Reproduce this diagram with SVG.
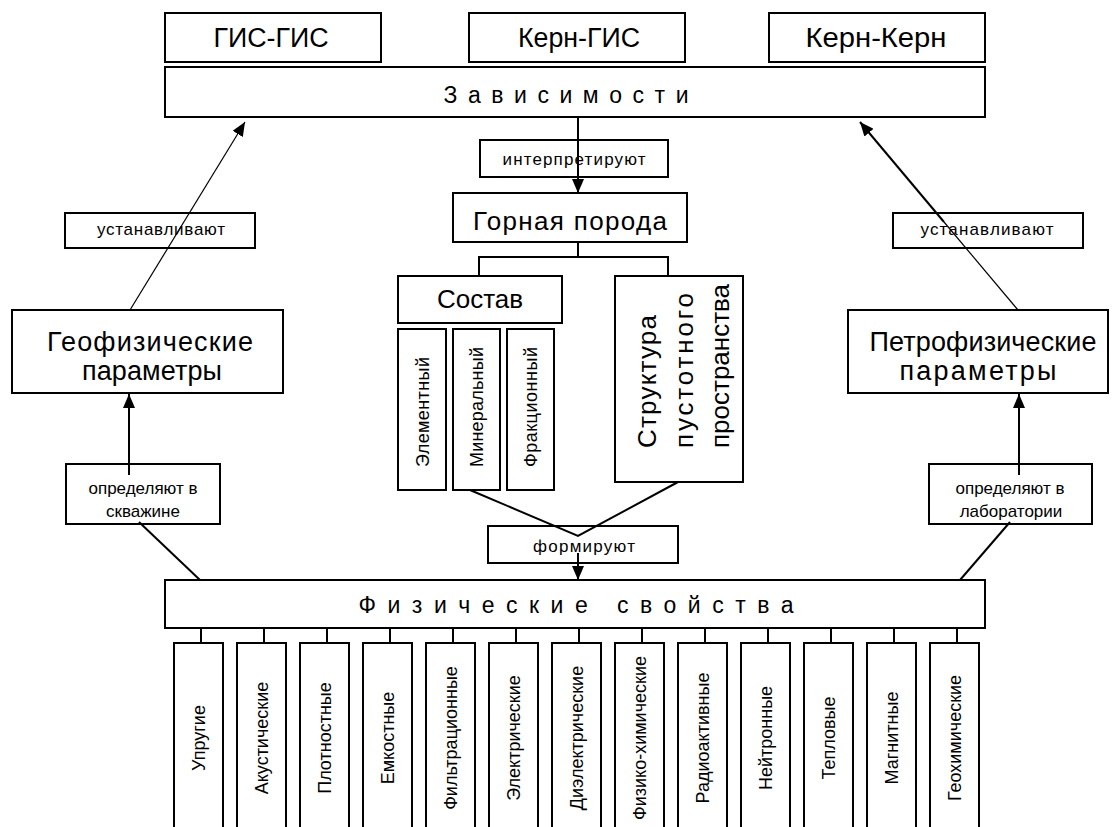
<svg xmlns="http://www.w3.org/2000/svg" width="1115" height="827" viewBox="0 0 1115 827">
<style>
.box{fill:#fff;stroke:#000;stroke-width:2}
.t{font-family:"Liberation Sans",Arial,sans-serif;fill:#000}
.big{font-size:26px}
.lbl{font-size:17px}
.col{font-size:18px}
.conn{stroke:#000;stroke-width:2;fill:none}
.thin{stroke-width:1.2}
</style>
<defs>
<marker id="ah" viewBox="0 0 14 12" refX="14" refY="6" markerWidth="14" markerHeight="12" markerUnits="userSpaceOnUse" orient="auto"><path d="M0,0 L14,6 L0,12 z" fill="#000"/></marker>
</defs>

<g id="gis-gis"><rect class="box" x="165" y="13" width="216" height="49"/><text class="t" x="271" y="47" font-size="27" text-anchor="middle" textLength="115" lengthAdjust="spacingAndGlyphs">ГИС-ГИС</text></g>
<g id="kern-gis"><rect class="box" x="469" y="13" width="216" height="49"/><text class="t" x="579" y="47" font-size="27" text-anchor="middle" textLength="122" lengthAdjust="spacingAndGlyphs">Керн-ГИС</text></g>
<g id="kern-kern"><rect class="box" x="769" y="13" width="216" height="49"/><text class="t" x="876" y="47" font-size="27" text-anchor="middle" textLength="141" lengthAdjust="spacingAndGlyphs">Керн-Керн</text></g>
<g id="zavisimosti"><rect class="box" x="165" y="67" width="820" height="50"/><text class="t" x="566" y="103" font-size="23" text-anchor="middle" textLength="245">Зависимости</text></g>

<g id="interpret"><rect class="box" x="480" y="140" width="188" height="37"/><text class="t lbl" x="574" y="165" text-anchor="middle" textLength="143">интерпретируют</text></g>
<g id="gornaya"><rect class="box" x="453" y="193" width="234" height="49"/><text class="t big" x="570" y="230" text-anchor="middle" textLength="194">Горная порода</text></g>
<g id="sostav"><rect class="box" x="398" y="276" width="164" height="47"/><text class="t big" x="480" y="308" text-anchor="middle" textLength="86">Состав</text></g>
<g id="elem"><rect class="box" x="398" y="329" width="48" height="161"/><text class="t col" transform="translate(429,467) rotate(-90)" textLength="110">Элементный</text></g>
<g id="miner"><rect class="box" x="453" y="329" width="47" height="161"/><text class="t col" transform="translate(483,467) rotate(-90)" textLength="120">Минеральный</text></g>
<g id="frak"><rect class="box" x="507" y="329" width="47" height="161"/><text class="t col" transform="translate(537,467) rotate(-90)" textLength="120">Фракционный</text></g>
<g id="struktura"><rect class="box" x="615" y="276" width="128" height="206"/>
<text class="t" font-size="26" transform="translate(656,448) rotate(-90)" textLength="133">Структура</text>
<text class="t" font-size="26" transform="translate(693,448) rotate(-90)" textLength="155">пустотного</text>
<text class="t" font-size="26" transform="translate(729,448) rotate(-90)">пространства</text></g>

<g id="ustan-left"><rect class="box" x="65" y="213" width="190" height="35"/><text class="t lbl" x="161" y="235" text-anchor="middle" textLength="128">устанавливают</text></g>
<g id="geofiz"><rect class="box" x="12" y="310" width="271" height="83"/><text class="t" font-size="27" text-anchor="middle"><tspan x="150" y="351" textLength="206">Геофизические</tspan><tspan x="152" y="380" textLength="140">параметры</tspan></text></g>
<g id="opr-skv"><rect class="box" x="66" y="464" width="154" height="60"/><text class="t lbl" text-anchor="middle"><tspan x="143" y="494">определяют в</tspan><tspan x="143" y="517">скважине</tspan></text></g>

<g id="ustan-right"><rect class="box" x="893" y="213" width="190" height="35"/><text class="t lbl" x="987" y="235" text-anchor="middle" textLength="133">устанавливают</text></g>
<g id="petrofiz"><rect class="box" x="848" y="310" width="260" height="83"/><text class="t" font-size="27" text-anchor="middle"><tspan x="983" y="351" textLength="227">Петрофизические</tspan><tspan x="978" y="380" textLength="157">параметры</tspan></text></g>
<g id="opr-lab"><rect class="box" x="929" y="464" width="163" height="60"/><text class="t lbl" text-anchor="middle"><tspan x="1010" y="494">определяют в</tspan><tspan x="1011" y="517">лаборатории</tspan></text></g>

<g id="formiruyut"><rect class="box" x="488" y="526" width="190" height="37"/><text class="t lbl" x="584" y="552" text-anchor="middle" textLength="102">формируют</text></g>
<g id="fiz-svoystva"><rect class="box" x="165" y="580" width="820" height="48"/><text class="t" x="576" y="613" font-size="23" text-anchor="middle" textLength="435">Физические свойства</text></g>

<g id="c1"><rect class="box" x="174" y="643" width="49" height="200"/><text class="t col" transform="translate(198.5,738) rotate(-90)" y="6" text-anchor="middle">Упругие</text></g>
<g id="c2"><rect class="box" x="237" y="643" width="49" height="200"/><text class="t col" transform="translate(261.5,738) rotate(-90)" y="6" text-anchor="middle">Акустические</text></g>
<g id="c3"><rect class="box" x="300" y="643" width="49" height="200"/><text class="t col" transform="translate(324.5,738) rotate(-90)" y="6" text-anchor="middle">Плотностные</text></g>
<g id="c4"><rect class="box" x="363" y="643" width="49" height="200"/><text class="t col" transform="translate(387.5,738) rotate(-90)" y="6" text-anchor="middle">Емкостные</text></g>
<g id="c5"><rect class="box" x="426" y="643" width="49" height="200"/><text class="t col" transform="translate(450.5,738) rotate(-90)" y="6" text-anchor="middle">Фильтрационные</text></g>
<g id="c6"><rect class="box" x="489" y="643" width="49" height="200"/><text class="t col" transform="translate(513.5,738) rotate(-90)" y="6" text-anchor="middle">Электрические</text></g>
<g id="c7"><rect class="box" x="552" y="643" width="49" height="200"/><text class="t col" transform="translate(576.5,738) rotate(-90)" y="6" text-anchor="middle">Диэлектрические</text></g>
<g id="c8"><rect class="box" x="615" y="643" width="49" height="200"/><text class="t col" transform="translate(639.5,738) rotate(-90)" y="6" text-anchor="middle">Физико-химические</text></g>
<g id="c9"><rect class="box" x="678" y="643" width="49" height="200"/><text class="t col" transform="translate(702.5,738) rotate(-90)" y="6" text-anchor="middle">Радиоактивные</text></g>
<g id="c10"><rect class="box" x="741" y="643" width="49" height="200"/><text class="t col" transform="translate(765.5,738) rotate(-90)" y="6" text-anchor="middle">Нейтронные</text></g>
<g id="c11"><rect class="box" x="804" y="643" width="49" height="200"/><text class="t col" transform="translate(828.5,738) rotate(-90)" y="6" text-anchor="middle">Тепловые</text></g>
<g id="c12"><rect class="box" x="867" y="643" width="49" height="200"/><text class="t col" transform="translate(891.5,738) rotate(-90)" y="6" text-anchor="middle">Магнитные</text></g>
<g id="c13"><rect class="box" x="930" y="643" width="49" height="200"/><text class="t col" transform="translate(954.5,738) rotate(-90)" y="6" text-anchor="middle">Геохимические</text></g>

<g id="connectors">
<line class="conn thin" x1="130" y1="310" x2="245" y2="122" marker-end="url(#ah)"/>
<line class="conn thin" x1="1018" y1="310" x2="944" y2="222"/>
<line class="conn" x1="944" y1="222" x2="860" y2="122" marker-end="url(#ah)"/>
<line class="conn" x1="578" y1="117" x2="578" y2="193" marker-end="url(#ah)"/>
<path class="conn" d="M578,242 V257 M479,257 H668 M479,256 V276 M668,256 V276"/>
<polyline class="conn" points="470,490 578,536 678,482"/>
<line class="conn" x1="578" y1="553" x2="578" y2="580" marker-end="url(#ah)"/>
<line class="conn" x1="129" y1="475" x2="129" y2="394" marker-end="url(#ah)"/>
<line class="conn" x1="139" y1="522" x2="200" y2="580"/>
<line class="conn" x1="1019" y1="475" x2="1019" y2="394" marker-end="url(#ah)"/>
<line class="conn" x1="1010" y1="522" x2="960" y2="580"/>
<path class="conn" d="M201,628 V643 M264,628 V643 M327,628 V643 M390,628 V643 M453,628 V643 M516,628 V643 M579,628 V643 M642,628 V643 M705,628 V643 M768,628 V643 M831,628 V643 M894,628 V643 M957,628 V643"/>
</g>
</svg>
